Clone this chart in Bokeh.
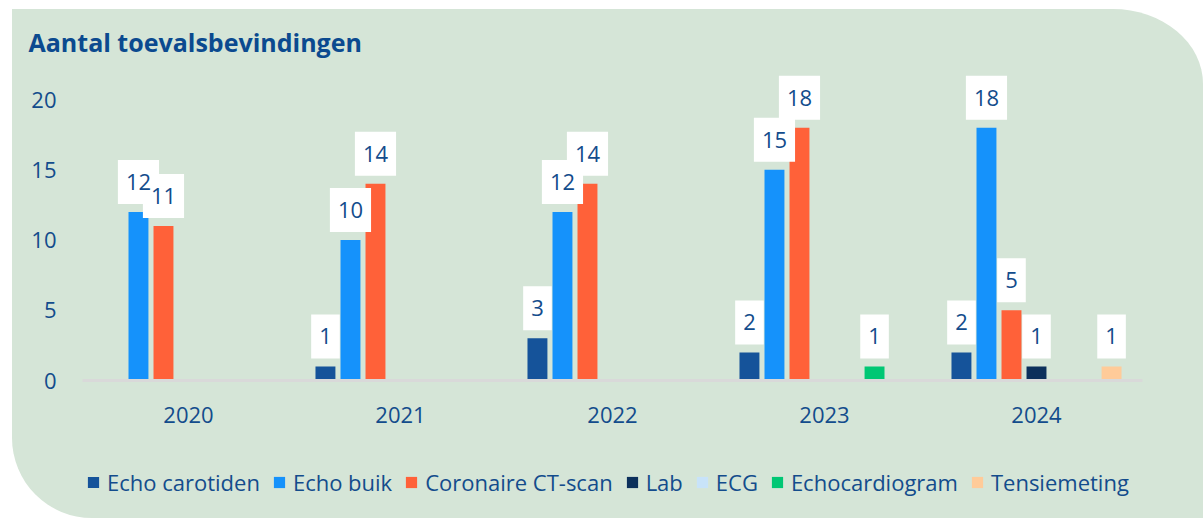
from bokeh.plotting import figure
from bokeh.layouts import column
from bokeh.models import (ColumnDataSource, FactorRange, Range1d, FixedTicker,
                          Legend, LegendItem)
from bokeh.core.properties import value
from bokeh.transform import dodge
from bokeh.embed import file_html
from bokeh.resources import INLINE

# ---- data ----
years = ["2020", "2021", "2022", "2023", "2024"]
echo_carotiden = [0, 1, 3, 2, 2]
echo_buik = [12, 10, 12, 15, 18]
coronaire_ct = [11, 14, 14, 18, 5]
lab = [0, 0, 0, 0, 1]
ecg = [0, 0, 0, 0, 0]
echocardiogram = [0, 0, 0, 1, 0]
tensiemeting = [0, 0, 0, 0, 1]

series_names = ["Echo carotiden", "Echo buik", "Coronaire CT-scan", "Lab",
                "ECG", "Echocardiogram", "Tensiemeting"]
series_values = [echo_carotiden, echo_buik, coronaire_ct, lab, ecg,
                 echocardiogram, tensiemeting]
series_colors = ["#15539a", "#1592fb", "#ff6139", "#0c305b", "#c8e3f9",
                 "#00c774", "#ffcb99"]
y_ticks = [0, 5, 10, 15, 20]
title_text = "Aantal toevalsbevindingen"

BG = "#d5e5d7"
TXT = "#134c8c"
FONT = "Open Sans"

p = figure(x_range=FactorRange(*years, range_padding=0),
           y_range=Range1d(0, 22),
           width=1191, height=438,
           output_backend="svg", toolbar_location=None,
           min_border_left=70, min_border_right=61,
           min_border_top=62, min_border_bottom=67)

p.background_fill_color = None
p.border_fill_color = None
p.outline_line_color = None
p.xgrid.grid_line_color = None
p.ygrid.grid_line_color = None

p.title.text = title_text
p.title.text_font = FONT
p.title.text_font_style = "bold"
p.title.text_font_size = "25px"
p.title.text_color = "#0b4a8f"
p.title.align = "left"
p.title.offset = -54
p.title.standoff = 26

slot = 0.118
bar_w = 0.094

label_sources = []
for i, (name, vals, col) in enumerate(zip(series_names, series_values, series_colors)):
    off = (i - 3) * slot
    src = ColumnDataSource(dict(year=years, val=vals))
    p.vbar(x=dodge("year", off, range=p.x_range), top="val", width=bar_w,
           source=src, fill_color=col, line_color=None)
    nz_years = [y for y, v in zip(years, vals) if v > 0]
    nz_vals = [v for v in vals if v > 0]
    if nz_vals:
        lsrc = ColumnDataSource(dict(year=nz_years, val=nz_vals,
                                     txt=[str(v) for v in nz_vals]))
        label_sources.append((off, lsrc))

# boxes first, then the numbers on top, so no number gets hidden
for off, lsrc in label_sources:
    p.text(x=dodge("year", off, range=p.x_range), y="val", text="txt",
           source=lsrc, text_align="center", text_baseline="bottom",
           y_offset=-8, text_font=value(FONT), text_font_size="22px",
           text_color=TXT, text_alpha=0, background_fill_color="white",
           padding=(8, 14))
for off, lsrc in label_sources:
    p.text(x=dodge("year", off, range=p.x_range), y="val", text="txt",
           source=lsrc, text_align="center", text_baseline="bottom",
           y_offset=-8, text_font=value(FONT), text_font_size="22px",
           text_color=TXT, padding=(8, 14))

p.xaxis.axis_line_color = "#d9d9d9"
p.xaxis.axis_line_width = 3
p.xaxis.major_tick_line_color = None
p.xaxis.minor_tick_line_color = None
p.xaxis.major_label_text_font = FONT
p.xaxis.major_label_text_font_size = "22px"
p.xaxis.major_label_text_color = TXT
p.xaxis.major_label_standoff = 20

p.yaxis.ticker = FixedTicker(ticks=y_ticks)
p.yaxis.axis_line_color = None
p.yaxis.major_tick_line_color = None
p.yaxis.minor_tick_line_color = None
p.yaxis.major_label_text_font = FONT
p.yaxis.major_label_text_font_size = "22px"
p.yaxis.major_label_text_color = TXT
p.yaxis.major_label_standoff = 20

# legend strip (its own small figure, glyphs kept outside its visible range)
lf = figure(width=1191, height=71, output_backend="svg", toolbar_location=None,
            x_axis_type=None, y_axis_type=None,
            x_range=Range1d(0, 1), y_range=Range1d(0, 1),
            min_border_left=0, min_border_right=0, min_border_top=0,
            min_border_bottom=0)
lf.background_fill_color = None
lf.border_fill_color = None
lf.outline_line_color = None
lf.xgrid.grid_line_color = None
lf.ygrid.grid_line_color = None

items = []
for name, col in zip(series_names, series_colors):
    lr = lf.vbar(x=[0.5], bottom=[-3], top=[-2], width=0.1,
                 fill_color=col, line_color=None)
    items.append(LegendItem(label=name, renderers=[lr]))

legend = Legend(items=items, orientation="horizontal", location=(4, 21),
                glyph_width=14, glyph_height=14, label_standoff=7, spacing=12,
                padding=0, margin=0, background_fill_alpha=0,
                border_line_color=None, label_text_font=FONT,
                label_text_font_size="22px", label_text_color=TXT)
lf.add_layout(legend)

layout = column(p, lf, spacing=0)
layout.margin = (9, 0, 0, 12)
layout.styles = {"background-color": BG,
                 "border-radius": "0px 90px 0px 80px / 0px 75px 0px 80px",
                 "overflow": "hidden"}

open("out.html", "w").write(file_html(layout, INLINE))
